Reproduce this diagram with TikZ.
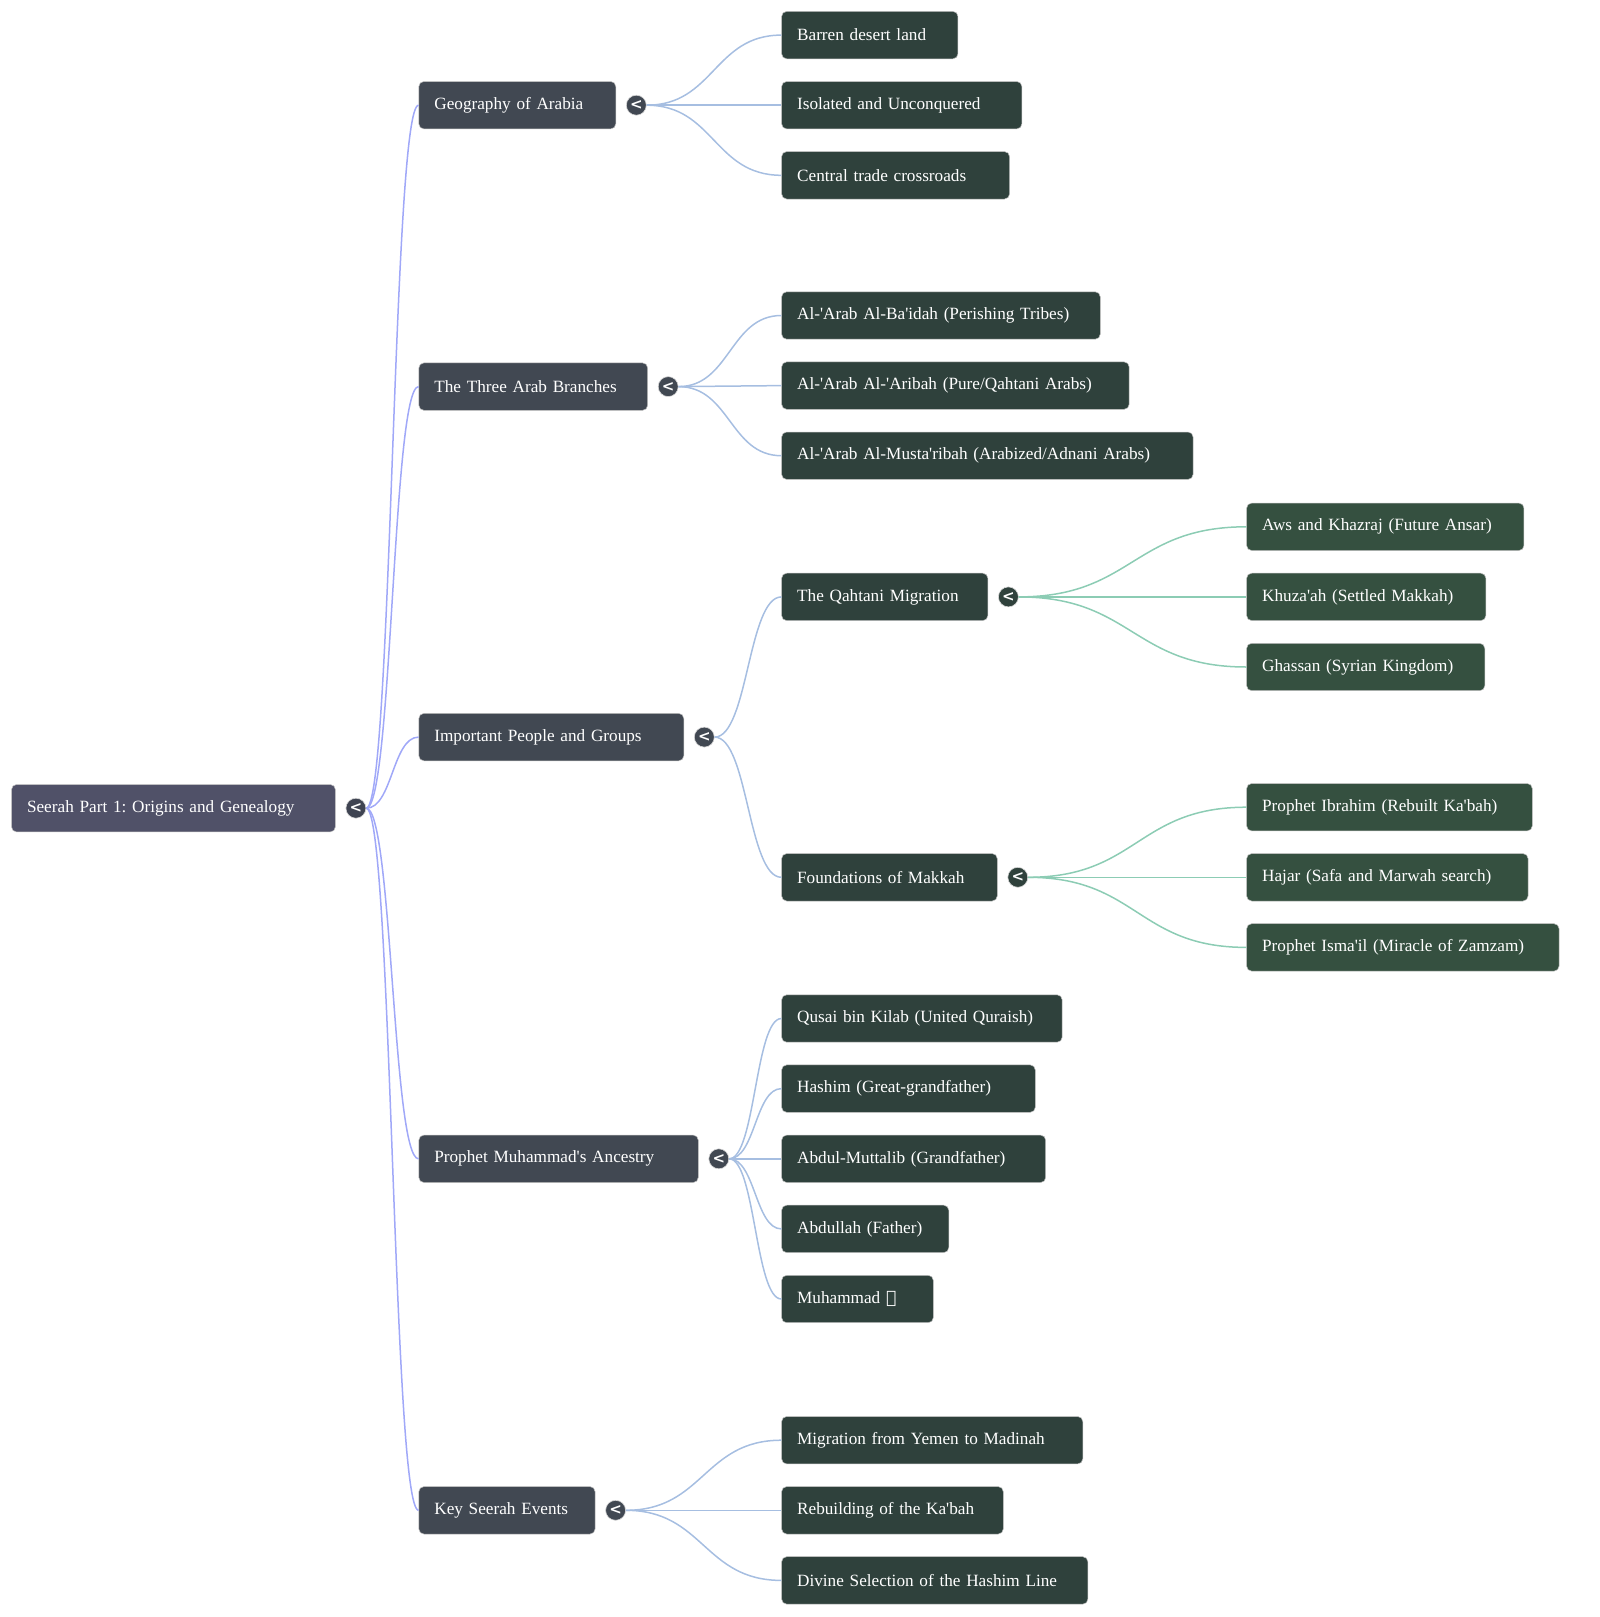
\documentclass[tikz,border=0pt]{standalone}
\usepackage{fontspec}
\setmainfont{Liberation Serif}[Ligatures=TeXOff]
\newfontfamily\btnfont{DejaVu Sans}
\newfontfamily\arabicfont[Script=Arabic]{DejaVu Sans}
\TeXXeTstate=1
\frenchspacing
\usetikzlibrary{positioning,calc}
\definecolor{rootc}{RGB}{80,81,104}
\definecolor{lonec}{RGB}{65,72,82}
\definecolor{ltwoc}{RGB}{47,65,60}
\definecolor{lthreec}{RGB}{53,80,64}
\definecolor{rbtnc}{RGB}{63,68,82}
\definecolor{ezero}{RGB}{160,168,248}
\definecolor{eone}{RGB}{166,190,225}
\definecolor{etwo}{RGB}{140,204,180}
\newcommand{\lnk}[3]{\draw[#1] let \p1=(#2.east), \p2=(#3.west), \p3=($(\p1)!0.5!(\p2)$) in
  (\p1) .. controls (\x3,\y1) and (\x3,\y2) .. (\p2);}
\tikzset{
  box/.style={rounded corners=5pt, draw=white!75!black, line width=0.5pt, text=white,
      anchor=west, align=left, minimum height=47.4pt, inner xsep=15.5pt,
      font=\fontsize{17.2}{20}\selectfont},
  rootbox/.style={box, fill=rootc},
  lone/.style={box, fill=lonec},
  ltwo/.style={box, fill=ltwoc},
  lthree/.style={box, fill=lthreec},
  btn/.style={circle, fill=#1, draw=white!85!black, line width=0.6pt, minimum size=20pt,
      inner sep=0pt, text=white, font=\btnfont\fontsize{15}{15}\selectfont\bfseries},
  wzero/.style={ezero, line width=1.5pt},
  wone/.style={eone, line width=1.5pt},
  wtwo/.style={etwo, line width=1.5pt},
}
\begin{document}
\begin{tikzpicture}[x=1pt,y=-1pt]
\useasboundingbox (0,0) rectangle (1600,1617);
%---- root
\node[rootbox, text width=292.8pt] (seerah) at (11.3,808.2) {Seerah Part 1: Origins and Genealogy};
\node[btn=rbtnc, right=10pt of seerah] (seerahb) {<};
%---- first level
\node[lone, text width=165.9pt] (geo) at (418.6,105.2) {Geography of Arabia};
\node[lone, text width=197.8pt] (branches) at (418.6,386.6) {The Three Arab Branches};
\node[lone, text width=233.9pt] (people) at (418.6,737.1) {Important People and Groups};
\node[lone, text width=248.4pt] (ancestry) at (418.6,1158.8) {Prophet Muhammad's Ancestry};
\node[lone, text width=145.2pt] (events) at (418.6,1510.3) {Key Seerah Events};
\foreach \t in {geo,branches,people,ancestry,events}{
  \node[btn=lonec, right=10pt of \t] (\t b) {<};
  \lnk{wzero}{seerahb}{\t}}
%---- second level
\node[ltwo, text width=145.3pt] (barren) at (781.4,35.1) {Barren desert land};
\node[ltwo, text width=209.2pt] (isolated) at (781.4,105.2) {Isolated and Unconquered};
\node[ltwo, text width=196.9pt] (trade) at (781.4,175.3) {Central trade crossroads};
\node[ltwo, text width=287.6pt] (baidah) at (781.4,315.5) {Al-'Arab Al-Ba'idah (Perishing Tribes)};
\node[ltwo, text width=316.5pt] (aribah) at (781.4,385.6) {Al-'Arab Al-'Aribah (Pure/Qahtani Arabs)};
\node[ltwo, text width=380.4pt] (mustaribah) at (781.4,455.7) {Al-'Arab Al-Musta'ribah (Arabized/Adnani Arabs)};
\node[ltwo, text width=175.2pt] (qahtani) at (781.4,596.9) {The Qahtani Migration};
\node[ltwo, text width=184.6pt] (makkah) at (781.4,877.3) {Foundations of Makkah};
\node[ltwo, text width=249.5pt] (qusai) at (781.4,1018.5) {Qusai bin Kilab (United Quraish)};
\node[ltwo, text width=222.6pt] (hashim) at (781.4,1088.6) {Hashim (Great-grandfather)};
\node[ltwo, text width=233pt] (muttalib) at (781.4,1158.8) {Abdul-Muttalib (Grandfather)};
\node[ltwo, text width=136.1pt] (abdullah) at (781.4,1228.9) {Abdullah (Father)};
\node[ltwo, text width=120.6pt] (muhammad) at (781.4,1299) {Muhammad {\arabicfont\beginR ﷺ\endR}};
\node[ltwo, text width=270.1pt] (yemen) at (781.4,1440.2) {Migration from Yemen to Madinah};
\node[ltwo, text width=190.6pt] (kabah) at (781.4,1510.3) {Rebuilding of the Ka'bah};
\node[ltwo, text width=275.2pt] (selection) at (781.4,1580.4) {Divine Selection of the Hashim Line};
\foreach \c in {barren,isolated,trade} \lnk{wone}{geob}{\c};
\foreach \c in {baidah,aribah,mustaribah} \lnk{wone}{branchesb}{\c};
\foreach \c in {qahtani,makkah} \lnk{wone}{peopleb}{\c};
\foreach \c in {qusai,hashim,muttalib,abdullah,muhammad} \lnk{wone}{ancestryb}{\c};
\foreach \c in {yemen,kabah,selection} \lnk{wone}{eventsb}{\c};
\node[btn=ltwoc, right=10pt of qahtani] (qahtanib) {<};
\node[btn=ltwoc, right=10pt of makkah] (makkahb) {<};
%---- third level
\node[lthree, text width=246.3pt] (aws) at (1246.4,526.8) {Aws and Khazraj (Future Ansar)};
\node[lthree, text width=208.2pt] (khuzaah) at (1246.4,596.9) {Khuza'ah (Settled Makkah)};
\node[lthree, text width=207.1pt] (ghassan) at (1246.4,667) {Ghassan (Syrian Kingdom)};
\node[lthree, text width=254.6pt] (ibrahim) at (1246.4,807.2) {Prophet Ibrahim (Rebuilt Ka'bah)};
\node[lthree, text width=250.4pt] (hajar) at (1246.4,877.3) {Hajar (Safa and Marwah search)};
\node[lthree, text width=281.4pt] (ismail) at (1246.4,947.4) {Prophet Isma'il (Miracle of Zamzam)};
\foreach \c in {aws,khuzaah,ghassan} \lnk{wtwo}{qahtanib}{\c};
\foreach \c in {ibrahim,hajar,ismail} \lnk{wtwo}{makkahb}{\c};
\end{tikzpicture}
\end{document}
